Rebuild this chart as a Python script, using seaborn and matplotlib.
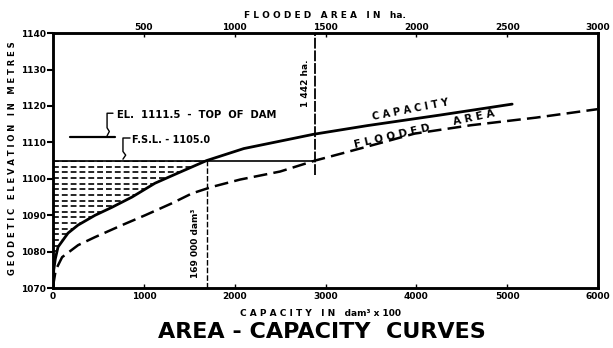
import numpy as np
import pandas as pd
import matplotlib
matplotlib.use("Agg")
import matplotlib.pyplot as plt
import seaborn as sns

# capacity curve: storage in dam3 x 100 against geodetic elevation in m
capacity_vol = [0, 8, 25, 55, 165, 275, 463, 650, 870, 1123, 1377, 1690,
                2100, 2610, 2863, 3460, 4262, 5055]
capacity_elev = [1070, 1075, 1078, 1081.3, 1085.1, 1087.3, 1090, 1092.2, 1095,
                 1098.8, 1101.6, 1105, 1108.3, 1110.9, 1112.2, 1114.6, 1117.5, 1120.5]

# flooded area curve: area in ha against geodetic elevation in m
area_ha = [0, 15, 50, 138, 231, 380, 507, 655, 765, 876, 1030, 1250, 1442,
           1600, 1800, 1990, 2300, 2660, 2996]
area_elev = [1070.5, 1075, 1078.5, 1081.8, 1084.0, 1087.3, 1090.0, 1093.3, 1096.0,
             1097.8, 1099.8, 1102.0, 1105, 1107.1, 1109.8, 1112.4, 1114.7, 1116.8, 1119.1]

fsl = 1105.0
top_of_dam = 1111.5
fsl_area = 1442
fsl_capacity = 1690

cap_df = pd.DataFrame({"capacity": capacity_vol, "elevation": capacity_elev})
area_df = pd.DataFrame({"area": area_ha, "elevation": area_elev})

sns.set_style("white")
plt.rcParams["font.family"] = ["DejaVu Sans"]
plt.rcParams["font.weight"] = "bold"
for key in ["text.color", "axes.labelcolor", "xtick.color", "ytick.color",
            "axes.edgecolor"]:
    plt.rcParams[key] = "black"

fig = plt.figure(figsize=(6.13, 3.48), dpi=100)
ax = fig.add_axes([0.0865, 0.172, 0.889, 0.733])
ax2 = ax.twiny()

# storage below F.S.L.: dashed hatch clipped to the area left of the curve
below = cap_df[cap_df["elevation"] <= fsl]
poly = ax.fill_betweenx(below["elevation"], 0, below["capacity"],
                        facecolor="none", linewidth=0, zorder=1)
hatch_levels = np.arange(1070.8, fsl, 1.55)
hatch = ax.hlines(hatch_levels, 0, fsl_capacity, colors="black", lw=1.2,
                  linestyles=[(0, (3.5, 1.8))], zorder=1)
hatch.set_clip_path(poly.get_paths()[0], ax.transData)

sns.lineplot(data=cap_df, x="capacity", y="elevation", ax=ax, color="black",
             linewidth=2, sort=False, zorder=3)
sns.lineplot(data=area_df, x="area", y="elevation", ax=ax2, color="black",
             linewidth=1.8, linestyle=(0, (5.5, 2.5)), sort=False, zorder=3)

# reference lines
ax2.plot([0, fsl_area], [fsl, fsl], color="black", lw=1.2)
ax2.plot([fsl_area, fsl_area], [1101, 1140], color="black", lw=1.3,
         linestyle=(0, (6, 1)))
ax.plot([fsl_capacity, fsl_capacity], [1070, fsl], color="black", lw=1,
        linestyle=(0, (4, 1.5)))

# top of dam marker
ax.plot([187, 683], [top_of_dam, top_of_dam], color="black", lw=1.6)
ax.plot([660, 595, 595, 620, 595], [1118, 1118, 1114, 1113, 1111.8],
        color="black", lw=1)
ax.text(705, 1117.5, "EL.  1111.5  -  TOP  OF  DAM", fontsize=7.2, va="center")
# F.S.L. marker
ax.plot([848, 770, 770, 800, 770], [1111.2, 1111.2, 1107.5, 1106.5, 1105.4],
        color="black", lw=1)
ax.text(870, 1110.6, "F.S.L. - 1105.0", fontsize=7, va="center")

ax2.text(1392, 1126.3, "1 442 ha.", fontsize=6.5, rotation=90,
         ha="center", va="center")
ax.text(1564, 1082.4, "169 000 dam³", fontsize=6.5, rotation=90,
        ha="center", va="center")

ax.text(3932, 1119.0, "C A P A C I T Y", fontsize=7, rotation=11,
        ha="center", va="center")
ax.text(3733, 1111.6, "F L O O D E D", fontsize=7.5, rotation=13,
        ha="center", va="center")
ax.text(4637, 1116.9, "A R E A", fontsize=7.5, rotation=12,
        ha="center", va="center")

# axes
ax.set_xlim(0, 6000)
ax.set_ylim(1070, 1140)
ax2.set_xlim(0, 3000)
ax.set_xticks(range(0, 6001, 1000))
ax.set_yticks(range(1070, 1141, 10))
ax2.set_xticks(range(500, 3001, 500))
ax.set_xlabel("")
ax.set_ylabel("")
ax2.set_xlabel("")

ax.tick_params(axis="y", direction="out", length=4, width=1.5, pad=1,
               labelsize=6.5, left=True)
ax.tick_params(axis="x", direction="in", length=3, width=1, pad=3,
               labelsize=6.5, bottom=True)
ax2.tick_params(axis="x", direction="in", length=3, width=1, pad=1,
                labelsize=6.5, top=True)

for a in (ax, ax2):
    for s in a.spines.values():
        s.set_linewidth(1.8)
        s.set_color("black")

fig.text(13 / 613, 1 - 158 / 348, "G E O D E T I C   E L E V A T I O N   I N   M E T R E S",
         rotation=90, fontsize=6, ha="center", va="center")
fig.text(325 / 613, 1 - 15 / 348, "F L O O D E D   A R E A   I N   ha.",
         fontsize=6.5, ha="center", va="center")
fig.text(320 / 613, 1 - 313 / 348, "C A P A C I T Y   I N   dam³ x 100",
         fontsize=6.5, ha="center", va="center")
fig.text(322 / 613, 1 - 332 / 348, "AREA - CAPACITY  CURVES",
         fontsize=16, fontweight="bold", ha="center", va="center")

fig.savefig("out.png", dpi=100)
